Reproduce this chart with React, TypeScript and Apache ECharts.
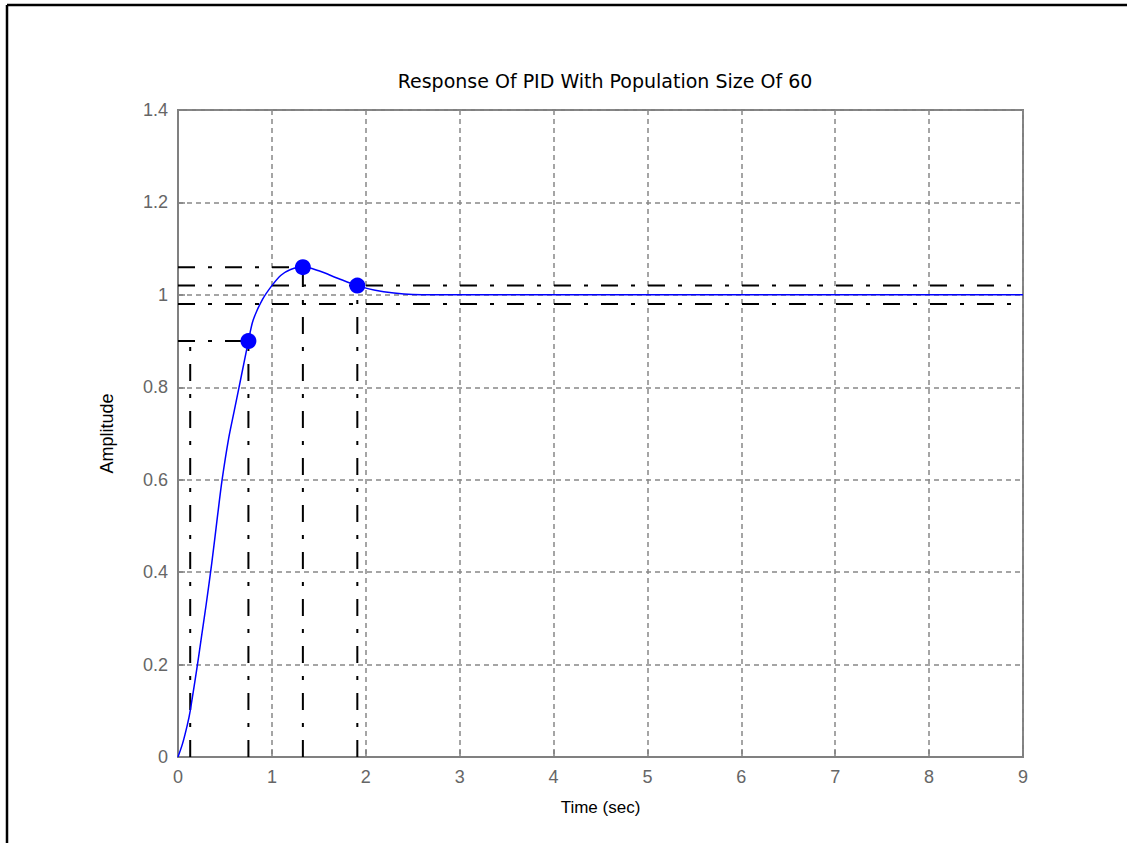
import React, { useEffect, useRef } from "react";
import * as echarts from "echarts";

// Step response samples: time (sec) and amplitude
const timeSec = [0, 0.05, 0.1, 0.13, 0.2, 0.25, 0.3, 0.36, 0.42, 0.47, 0.54, 0.6, 0.65, 0.7, 0.75, 0.8, 0.9, 1.0, 1.1, 1.2, 1.33, 1.5, 1.7, 1.91, 2.1, 2.3, 2.5, 3, 4, 5, 6, 7, 8, 9];
const amplitude = [0, 0.03, 0.07, 0.1, 0.19, 0.26, 0.33, 0.42, 0.52, 0.6, 0.69, 0.75, 0.8, 0.85, 0.9, 0.945, 0.99, 1.02, 1.043, 1.055, 1.061, 1.052, 1.036, 1.02, 1.01, 1.004, 1.001, 1.0, 1.0, 1.0, 1.0, 1.0, 1.0, 1.0];

// Step characteristics
const riseStartTime = 0.13;
const riseEndTime = 0.75;
const riseEndLevel = 0.9;
const peakTime = 1.33;
const peakValue = 1.06;
const settleTime = 1.91;
const bandHigh = 1.02;
const bandLow = 0.98;
const endTime = 9;

// Axis ticks
const xTicks = [0, 9, 1];
const yTicks = [0, 1.4, 0.2];

const titleText = "Response Of PID With Population Size Of 60";

export default function App() {
  const ref = useRef<HTMLDivElement>(null);

  useEffect(() => {
    if (!ref.current) return;
    const chart = echarts.init(ref.current, undefined, { renderer: "svg" });
    const font = "'Liberation Sans', Arial, sans-serif";
    const wideFont = "'DejaVu Sans', 'Liberation Sans', sans-serif";
    const dashDot = [17, 13, 4, 13];
    const refLine = (pts: number[][]) => ({
      type: "line",
      data: pts,
      symbol: "none",
      silent: true,
      lineStyle: { color: "#000", width: 2, type: dashDot },
      z: 3,
    });

    chart.setOption({
      animation: false,
      backgroundColor: "#fff",
      title: {
        text: titleText,
        left: 600,
        textAlign: "center",
        top: 66,
        textStyle: { fontFamily: wideFont, fontSize: 19, fontWeight: "normal", color: "#000" },
      },
      grid: {
        left: 178,
        right: 104,
        top: 110,
        bottom: 86,
        show: true,
        borderColor: "#808080",
        borderWidth: 2,
        backgroundColor: "#fff",
      },
      xAxis: {
        type: "value",
        min: xTicks[0],
        max: xTicks[1],
        interval: xTicks[2],
        name: "Time (sec)",
        nameLocation: "middle",
        nameGap: 42,
        nameTextStyle: { fontFamily: font, fontSize: 17, color: "#000" },
        axisLine: { show: true, lineStyle: { color: "#808080", width: 2 } },
        axisTick: { show: true, inside: true, length: 7, lineStyle: { color: "#808080", width: 1.5 } },
        axisLabel: { fontFamily: font, fontSize: 18, color: "#666", margin: 11 },
        splitLine: { show: true, lineStyle: { color: "#888", width: 1.5, type: [5, 4] } },
      },
      yAxis: {
        type: "value",
        min: yTicks[0],
        max: yTicks[1],
        interval: yTicks[2],
        name: "Amplitude",
        nameLocation: "middle",
        nameGap: 62,
        nameTextStyle: { fontFamily: font, fontSize: 18, color: "#000" },
        axisLine: { show: true, lineStyle: { color: "#808080", width: 2 } },
        axisTick: { show: true, inside: true, length: 7, lineStyle: { color: "#808080", width: 1.5 } },
        axisLabel: { fontFamily: font, fontSize: 18, color: "#666", margin: 10 },
        splitLine: { show: true, lineStyle: { color: "#888", width: 1.5, type: [5, 4] } },
      },
      graphic: [
        { type: "line", shape: { x1: 7, y1: 5, x2: 1127, y2: 5 }, style: { stroke: "#000", lineWidth: 2.5 } },
        { type: "line", shape: { x1: 7, y1: 5, x2: 7, y2: 843 }, style: { stroke: "#000", lineWidth: 2.5 } },
      ],
      series: [
        refLine([[0, peakValue], [peakTime, peakValue]]),
        refLine([[0, bandHigh], [endTime, bandHigh]]),
        refLine([[0, bandLow], [endTime, bandLow]]),
        refLine([[0, riseEndLevel], [riseEndTime, riseEndLevel]]),
        refLine([[riseStartTime, 0], [riseStartTime, riseEndLevel]]),
        refLine([[riseEndTime, 0], [riseEndTime, riseEndLevel]]),
        refLine([[peakTime, 0], [peakTime, peakValue]]),
        refLine([[settleTime, 0], [settleTime, bandHigh]]),
        {
          type: "line",
          data: timeSec.map((t, i) => [t, amplitude[i]]),
          symbol: "none",
          smooth: 0.3,
          lineStyle: { color: "#0000ff", width: 1.5 },
          z: 5,
        },
        {
          type: "scatter",
          data: [
            [riseEndTime, riseEndLevel],
            [peakTime, peakValue],
            [settleTime, bandHigh],
          ],
          symbol: "circle",
          symbolSize: 16,
          itemStyle: { color: "#0000ff", opacity: 1 },
          z: 6,
        },
      ],
    });
    return () => chart.dispose();
  }, []);

  return (
    <div
      ref={ref}
      style={{ position: "fixed", left: 0, top: 0, width: 1127, height: 843 }}
    />
  );
}
